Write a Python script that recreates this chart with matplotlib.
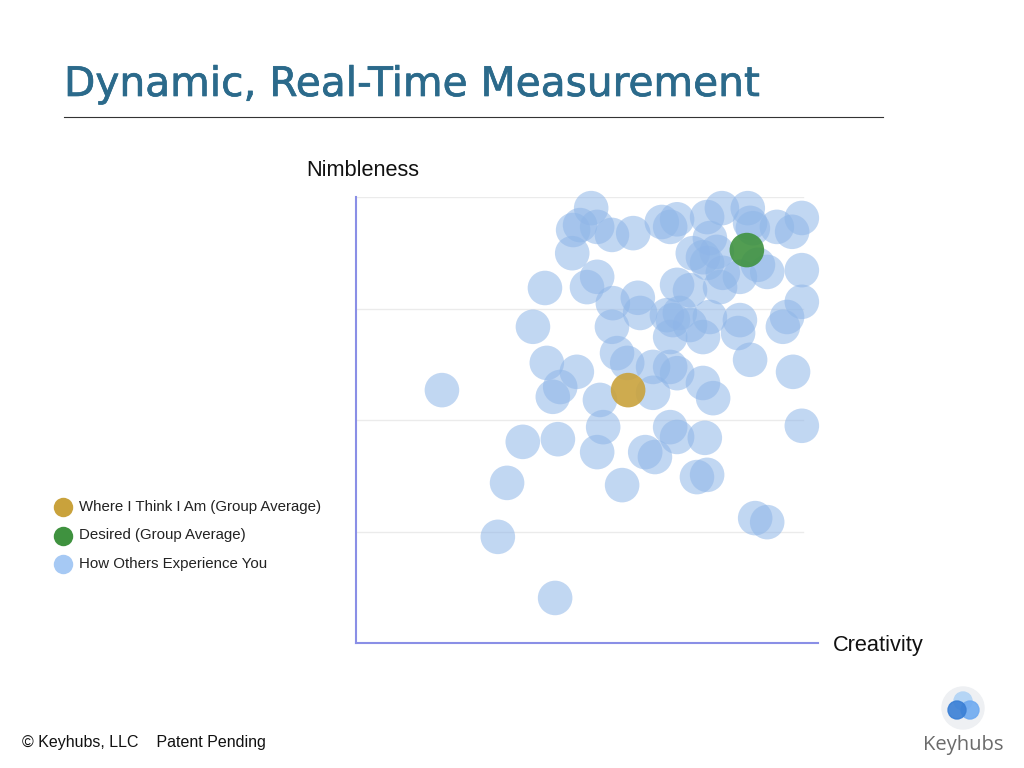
import matplotlib.pyplot as plt
import matplotlib.patheffects as pe
from matplotlib.patches import Circle
from matplotlib.lines import Line2D

# how others experience you: creativity (x) and nimbleness (y), 0-100 scale
others_x = [50.9, 47.0, 48.5, 52.2, 46.8, 55.4, 60.0, 66.2, 68.0, 76.0,
            79.2, 84.8, 85.3, 75.1, 72.9, 76.0, 79.4, 83.1, 89.0, 87.0,
            91.1, 94.4, 96.5, 96.5, 69.5, 72.3, 52.2, 50.0, 40.9, 55.6,
            61.0, 61.5, 38.3, 55.4, 68.6, 72.3, 75.1, 83.1, 82.7, 85.3,
            96.5, 93.3, 92.4, 94.6, 56.5, 58.7, 64.3, 68.0, 69.5, 41.3,
            47.8, 44.2, 42.6, 18.6, 64.3, 75.1, 77.3, 52.8, 96.5, 36.1,
            43.7, 53.5, 52.2, 68.0, 69.5, 62.6, 64.7, 75.5, 73.8, 76.0,
            57.6, 32.7, 86.4, 89.0, 30.7, 43.1, 67.3, 70.1, 76.6, 78.8,
            68.0, 78.1, 76.6, 85.9, 69.5]
others_y = [97.5, 92.6, 93.7, 93.3, 87.4, 91.5, 91.9, 94.4, 93.3, 95.5,
            97.5, 97.5, 94.2, 86.5, 87.4, 85.2, 83.0, 82.1, 83.2, 84.8,
            93.3, 92.2, 95.3, 83.6, 80.3, 79.1, 82.1, 79.8, 79.6, 76.2,
            77.4, 74.0, 70.9, 70.9, 72.4, 71.3, 68.6, 72.4, 69.5, 63.5,
            76.5, 73.1, 70.9, 60.8, 65.0, 62.8, 61.9, 61.9, 60.5, 62.8,
            60.8, 57.4, 55.2, 56.7, 56.1, 58.3, 54.9, 54.5, 48.7, 45.1,
            45.7, 48.4, 42.8, 48.4, 46.2, 42.8, 41.7, 46.0, 37.2, 37.7,
            35.4, 35.9, 28.0, 27.1, 23.8, 10.1, 73.5, 74.0, 73.1, 79.8,
            68.6, 87.7, 90.8, 93.0, 95.0]
think_x, think_y = [58.9], [56.7]
desired_x, desired_y = [84.6], [88.1]
legend_labels = ["Where I Think I Am (Group Average)",
                 "Desired (Group Average)",
                 "How Others Experience You"]

BLUE = "#8fb6e8"
GREEN = "#3f923f"
GOLD = "#c9a23c"
AXIS = "#8a8fe6"
TITLE = "#2b6a8b"

plt.rcParams['font.family'] = ['Liberation Sans', 'DejaVu Sans']
fig = plt.figure(figsize=(10.24, 7.68), dpi=100)

# title and rule
fig.text(64 / 1024, 1 - 85 / 768, "Dynamic, Real-Time Measurement", fontsize=29.3,
         color=TITLE, family=['DejaVu Sans'], va="center", ha="left",
         path_effects=[pe.withStroke(linewidth=0.5, foreground=TITLE)])
fig.add_artist(Line2D([64 / 1024, 883 / 1024], [1 - 117 / 768] * 2, color="#333333", lw=0.8))

ax = fig.add_axes([356 / 1024, 125 / 768, 462 / 1024, 446 / 768])
ax.set_xlim(0, 100)
ax.set_ylim(0, 100)
for g in [25, 50, 75, 100]:
    ax.axhline(g, xmin=0, xmax=0.967, color="#ebebeb", lw=1, zorder=0)
ax.scatter(others_x, others_y, s=620, color=BLUE, alpha=0.55, edgecolors="none", clip_on=False, zorder=2)
ax.scatter(think_x, think_y, s=620, color=GOLD, alpha=0.9, edgecolors="none", clip_on=False, zorder=3)
ax.scatter(desired_x, desired_y, s=620, color=GREEN, alpha=0.9, edgecolors="none", clip_on=False, zorder=3)
for side in ["top", "right"]:
    ax.spines[side].set_visible(False)
for side in ["left", "bottom"]:
    ax.spines[side].set_color(AXIS)
    ax.spines[side].set_linewidth(1.5)
ax.set_xticks([])
ax.set_yticks([])

fig.text(306 / 1024, 1 - 170 / 768, "Nimbleness", fontsize=15.7, va="center", ha="left", color="#111111")
fig.text(833 / 1024, 1 - 645 / 768, "Creativity", fontsize=15.7, va="center", ha="left", color="#111111")

# legend
leg_colors = [GOLD, GREEN, "#a6c9f4"]
for i, (lab, col) in enumerate(zip(legend_labels, leg_colors)):
    yy = 1 - (507 + 28.5 * i) / 768
    fig.add_artist(Line2D([63 / 1024], [yy], marker="o", markersize=14, color=col, markeredgewidth=0))
    fig.text(79 / 1024, yy, lab, fontsize=10.8, va="center", ha="left", color="#222222")

# footer
fig.text(22 / 1024, 1 - 742 / 768, "© Keyhubs, LLC    Patent Pending", fontsize=11.5,
         va="center", ha="left", color="#111111")

# logo
lax = fig.add_axes([933 / 1024, 1 - 738 / 768, 60 / 1024, 60 / 768])
lax.set_xlim(-30, 30)
lax.set_ylim(-30, 30)
lax.set_aspect("equal")
lax.axis("off")
lax.add_patch(Circle((0, 0), 21, color="#eef0f3"))
lax.add_patch(Circle((0, 7), 9, color="#b5d5f5"))
lax.add_patch(Circle((7, -2), 9, color="#6faaf0", alpha=0.9))
lax.add_patch(Circle((-6, -2), 9, color="#3a7fd5", alpha=0.9))
fig.text(963 / 1024, 1 - 745 / 768, "Keyhubs", fontsize=14.5, va="center", ha="center",
         color="#6b6b6b", family=['Open Sans', 'DejaVu Sans'])

fig.savefig("out.png", dpi=100)
